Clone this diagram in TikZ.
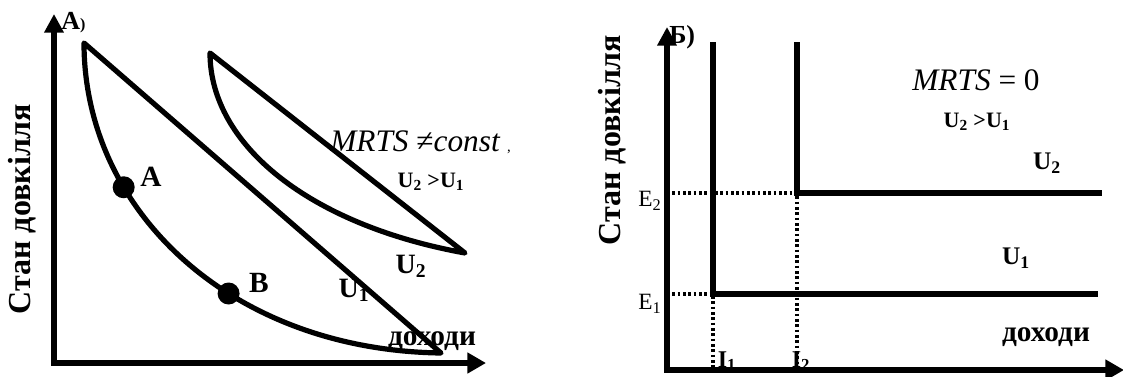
\documentclass[tikz,border=0pt]{standalone}
\usepackage{fontspec}
\setmainfont{Liberation Serif}
\usetikzlibrary{arrows.meta}
\tikzset{
  axis/.style={
    line width=3.8pt,line join=miter,
    {Triangle[length=14pt,width=14pt]}-{Triangle[length=14pt,width=15pt]}
  },
  curve/.style={line width=3.9pt,line join=round},
  corner/.style={line width=3.9pt,line join=miter},
  guide/.style={line width=2.3pt,dash pattern=on 2pt off 2pt},
  point/.style={circle,fill,inner sep=0pt,minimum size=16.5pt},
  panel/.style={inner sep=0pt,anchor=west,font=\bfseries\fontsize{19.5}{19.5}\selectfont},
  ylabel/.style={inner sep=0pt,rotate=90,font=\bfseries\fontsize{24}{24}\selectfont},
  xlabel/.style={inner sep=0pt,font=\bfseries\fontsize{22}{22}\selectfont},
  formula/.style={inner sep=0pt,anchor=west,font=\fontsize{23.5}{23.5}\selectfont},
  ptlabel/.style={inner sep=0pt,font=\bfseries\fontsize{22}{22}\selectfont},
  ubig/.style={inner sep=0pt,font=\bfseries\fontsize{21}{21}\selectfont},
  umid/.style={inner sep=0pt,font=\bfseries\fontsize{19}{19}\selectfont},
  usmall/.style={inner sep=0pt,font=\bfseries\fontsize{16.5}{16.5}\selectfont},
  elabel/.style={inner sep=0pt,font=\fontsize{17.5}{17.5}\selectfont},
  ilabel/.style={inner sep=0pt,font=\bfseries\fontsize{18}{18}\selectfont}
}

\begin{document}
\begin{tikzpicture}[x=0.75pt,y=-0.75pt]
\useasboundingbox (0,0) rectangle (1123,376);

% panel A: convex indifference curves
\coordinate (oa) at (54,363);
\coordinate (ya) at (54,14);
\coordinate (xa) at (486,363);
\coordinate (topa) at (84,43);
\coordinate (enda) at (441,353);
\coordinate (topb) at (210,53);
\coordinate (endb) at (465,253);

\node[panel] (pnla) at (61,23) {А{\fontsize{12}{12}\selectfont)}};
\node[ylabel] (stana) at (22,209) {Стан довкілля};
\node[formula] (mrtsa) at (330,142) {\textit{MRTS} ≠\textit{const}\hspace{5pt}{\fontsize{11}{11}\selectfont ,}};
\node[usmall] (cmpa) at (431,182) {U\textsubscript{2} >U\textsubscript{1}};
\node[ubig] (u2a) at (411,266) {U\textsubscript{2}};
\node[ubig] (u1a) at (354,290) {U\textsubscript{1}};
\node[xlabel] (doha) at (432,341) {доходи};
\node[ptlabel] (la) at (151,177) {A};
\node[ptlabel] (lb) at (259,283) {B};

\draw[axis] (ya) -- (oa) -- (xa);
\draw[curve] (topa) .. controls (84,210) and (230,350) .. (enda) -- cycle;
\draw[curve] (topb) .. controls (210,145) and (310,225) .. (endb) -- cycle;
\path (topa) .. controls (84,210) and (230,350) ..
  coordinate[pos=0.31] (pa) (enda);
\node[point] (dota) at (pa) {};
\path (topa) .. controls (84,210) and (230,350) ..
  coordinate[pos=0.61] (pb) (enda);
\node[point] (dotb) at (pb) {};

% panel B: perfect complements
\coordinate (ob) at (667,370);
\coordinate (yb) at (667,27);
\coordinate (xb) at (1124,370);
\coordinate (c1) at (713,294);
\coordinate (c2) at (797,193);

\node[panel] (pnlb) at (669,37) {Б)};
\node[ylabel] (stanb) at (612,140) {Стан довкілля};
\node[formula,anchor=center] (mrtsb) at (976,80) {\textit{MRTS} = 0};
\node[usmall] (cmpb) at (977,122) {U\textsubscript{2} >U\textsubscript{1}};
\node[umid] (u2b) at (1047,163) {U\textsubscript{2}};
\node[umid] (u1b) at (1016,258) {U\textsubscript{1}};
\node[xlabel] (dohb) at (1046,337) {доходи};
\node[elabel] (e2) at (650,201) {E\textsubscript{2}};
\node[elabel] (e1) at (650,304) {E\textsubscript{1}};
\node[ilabel] (i1) at (727,361) {I\textsubscript{1}};
\node[ilabel] (i2) at (801,361) {I\textsubscript{2}};

\draw[guide] (ob |- c2) -- (c2) -- (c2 |- ob);
\draw[guide] (ob |- c1) -- (c1) -- (c1 |- ob);
\draw[axis] (yb) -- (ob) -- (xb);
\draw[corner] (713,42) -- (c1) -- (1098,294);
\draw[corner] (797,42) -- (c2) -- (1102,193);

\end{tikzpicture}
\end{document}
